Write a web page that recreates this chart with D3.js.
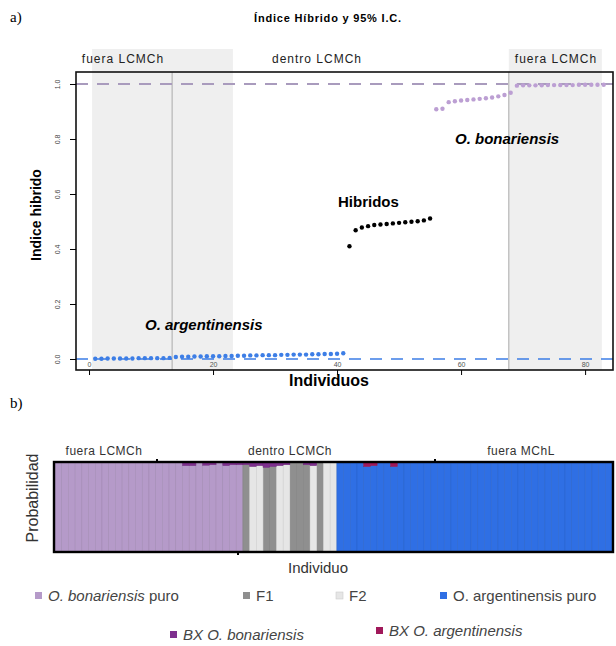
<!DOCTYPE html>
<html>
<head>
<meta charset="utf-8">
<script src="https://cdn.jsdelivr.net/npm/d3@7"></script>
<style>
body { margin: 0; background: #fff; }
text { font-family: "Liberation Sans", Arial, sans-serif; }
</style>
</head>
<body>
<svg id="chart" width="616" height="646"></svg>
<script>
// ---- panel a: hybrid index per individual (in plot order) ----
var indexArg = [0.001, 0.001, 0.002, 0.002, 0.002, 0.002, 0.002, 0.003, 0.003, 0.003,
                0.003, 0.003, 0.004, 0.007, 0.008, 0.008, 0.009, 0.009, 0.010, 0.010,
                0.010, 0.011, 0.011, 0.012, 0.012, 0.013, 0.013, 0.014, 0.014, 0.014,
                0.015, 0.015, 0.016, 0.016, 0.016, 0.017, 0.017, 0.018, 0.018, 0.019, 0.021];
var indexHyb = [0.410, 0.468, 0.478, 0.483, 0.487, 0.489, 0.491, 0.493, 0.495, 0.497,
                0.499, 0.501, 0.504, 0.511];
var indexBon = [0.908, 0.910, 0.934, 0.937, 0.940, 0.942, 0.944, 0.946, 0.948, 0.951,
                0.955, 0.960, 0.968, 0.994, 0.995, 0.995, 0.995, 0.995, 0.996, 0.996,
                0.996, 0.996, 0.996, 0.997, 0.997, 0.997, 0.997, 0.997];
var xTicks = [0, 20, 40, 60, 80];
var yTicks = [0, 0.2, 0.4, 0.6, 0.8, 1.0];
var shadeZones = [[0.5, 23.2], [67.7, 82.7]];
var zoneLines = [13.4, 67.7];

// ---- panel b: STRUCTURE assignment per individual (bar order) ----
var structClass = ["B","B","B","B","B","B","B","B","B","B","B","B","B","B",
                   "B","B","B","B","B","B","B","B","B","B","B","B","B","B",
                   "F1","F2","F2","F1","F1","F2","F2","F1","F1","F1","F2","F1","F2","F2",
                   "A","A","A","A","A","A","A","A","A","A","A","A","A","A",
                   "A","A","A","A","A","A","A","A","A","A","A","A","A","A",
                   "A","A","A","A","A","A","A","A","A","A","A","A","A"];
// [individual, probability] for backcross components
var bxBonTips = [[20, 0.03], [21, 0.03], [23, 0.025], [24, 0.02], [26, 0.03], [27, 0.02],
                 [28, 0.02], [29, 0.02], [30, 0.04], [31, 0.03], [32, 0.05], [33, 0.04],
                 [34, 0.03], [35, 0.02], [38, 0.02], [39, 0.03]];
var bxArgTips = [[47, 0.04], [48, 0.03], [51, 0.04]];
var classKeys = ["B", "F1", "F2", "A", "BXB", "BXA"];

var colors = {B: "#b59ac9", F1: "#8f8f8f", F2: "#e6e6e6", A: "#2f6fe4", BXB: "#7e2f8e", BXA: "#a0185a"};

var svg = d3.select("#chart");

// ================= panel a =================
var x = d3.scaleLinear().domain([-2.1, 84.5]).range([76, 613]);
var y = d3.scaleLinear().domain([-0.04, 1.0436]).range([370, 72]);

svg.append("text").attr("x", 10).attr("y", 22)
    .style("font-family", "Liberation Serif, serif").style("font-size", "15px").text("a)");

svg.append("text").attr("x", 328).attr("y", 22).attr("text-anchor", "middle")
    .style("font-size", "11px").style("font-weight", "bold").style("letter-spacing", "0.8px")
    .text("Índice Híbrido y 95% I.C.");

// shaded zones
svg.selectAll(".zone").data(shadeZones).enter().append("rect")
    .attr("class", "zone")
    .attr("x", function(d) { return x(d[0]); })
    .attr("width", function(d) { return x(d[1]) - x(d[0]); })
    .attr("y", 49).attr("height", 370 - 49)
    .attr("fill", "#efefef");

svg.selectAll(".zline").data(zoneLines).enter().append("line")
    .attr("x1", function(d) { return x(d); }).attr("x2", function(d) { return x(d); })
    .attr("y1", 72).attr("y2", 370)
    .attr("stroke", "#aaa").attr("stroke-width", 1);

// zone labels
[["fuera LCMCh", 123], ["dentro LCMCh", 317], ["fuera LCMCh", 556]].forEach(function(l) {
    svg.append("text").attr("x", l[1]).attr("y", 63).attr("text-anchor", "middle")
        .style("font-size", "12px").style("fill", "#222").style("letter-spacing", "1px")
        .text(l[0]);
});

// reference dashed lines
svg.append("line").attr("x1", 76).attr("x2", 613).attr("y1", y(1)).attr("y2", y(1))
    .attr("stroke", "#a99bbd").attr("stroke-width", 1.8).attr("stroke-dasharray", "12,9");
svg.append("line").attr("x1", 76).attr("x2", 613).attr("y1", y(0)).attr("y2", y(0))
    .attr("stroke", "#3d7ee6").attr("stroke-width", 1.5).attr("stroke-dasharray", "12,9");

// points
function addPoints(vals, offset, color) {
    svg.append("g").selectAll("circle").data(vals).enter().append("circle")
        .attr("cx", function(d, i) { return x(offset + i + 1); })
        .attr("cy", function(d) { return y(d); })
        .attr("r", 2.2)
        .attr("fill", color);
}
addPoints(indexArg, 0, "#3d7ee6");
addPoints(indexHyb, indexArg.length, "#000");
addPoints(indexBon, indexArg.length + indexHyb.length, "#bc9fd3");

// box
svg.append("rect").attr("x", 76).attr("y", 72).attr("width", 537).attr("height", 298)
    .attr("fill", "none").attr("stroke", "#111").attr("stroke-width", 1.6);

// axes
var yAxis = svg.append("g").attr("transform", "translate(76,0)")
    .call(d3.axisLeft(y).tickValues(yTicks).tickSize(6).tickFormat(d3.format(".1f")));
yAxis.select(".domain").remove();
yAxis.selectAll("text")
    .attr("transform", "rotate(-90)")
    .attr("x", 0).attr("y", -16).attr("dy", 0)
    .attr("text-anchor", "middle")
    .style("font-size", "7px").style("fill", "#444");

var xAxis = svg.append("g").attr("transform", "translate(0,370)")
    .call(d3.axisBottom(x).tickValues(xTicks).tickSize(5));
xAxis.select(".domain").remove();
xAxis.selectAll("text").attr("y", -3).attr("dy", 0)
    .style("font-size", "7px").style("fill", "#555");

svg.append("text").attr("transform", "translate(41,215) rotate(-90)")
    .attr("text-anchor", "middle")
    .style("font-size", "14px").style("font-weight", "bold").text("Indice hibrido");
svg.append("text").attr("x", 329).attr("y", 386).attr("text-anchor", "middle")
    .style("font-size", "16px").style("font-weight", "bold").text("Individuos");

// in-plot labels
svg.append("text").attr("x", 455).attr("y", 144)
    .style("font-size", "15px").style("font-weight", "bold").style("font-style", "italic")
    .text("O. bonariensis");
svg.append("text").attr("x", 338).attr("y", 207)
    .style("font-size", "15px").style("font-weight", "bold").text("Hibridos");
svg.append("text").attr("x", 145).attr("y", 330)
    .style("font-size", "15px").style("font-weight", "bold").style("font-style", "italic")
    .text("O. argentinensis");

// ================= panel b =================
svg.append("text").attr("x", 10).attr("y", 408)
    .style("font-family", "Liberation Serif, serif").style("font-size", "15px").text("b)");

var rows = structClass.map(function(c, i) {
    var r = {id: i + 1, B: 0, F1: 0, F2: 0, A: 0, BXB: 0, BXA: 0};
    bxBonTips.forEach(function(t) { if (t[0] === i + 1) r.BXB = t[1]; });
    bxArgTips.forEach(function(t) { if (t[0] === i + 1) r.BXA = t[1]; });
    r[c] = 1 - r.BXB - r.BXA;
    return r;
});

var xb = d3.scaleBand().domain(rows.map(function(d) { return d.id; })).range([55, 612]).padding(0);
var yb = d3.scaleLinear().domain([0, 1]).range([551, 463]);

var series = d3.stack().keys(classKeys)(rows);
svg.append("g").selectAll("g").data(series).enter().append("g")
    .attr("fill", function(s) { return colors[s.key]; })
    .attr("stroke", function(s) { return d3.color(colors[s.key]).darker(0.35); })
    .attr("stroke-width", 0.5)
    .selectAll("rect").data(function(s) { return s; }).enter().append("rect")
    .attr("x", function(d) { return xb(d.data.id); })
    .attr("width", xb.bandwidth())
    .attr("y", function(d) { return yb(d[1]); })
    .attr("height", function(d) { return yb(d[0]) - yb(d[1]); });

svg.append("rect").attr("x", 54).attr("y", 462).attr("width", 559).attr("height", 90)
    .attr("fill", "none").attr("stroke", "#000").attr("stroke-width", 2.4);

// small stray tick marks on the frame
[[157, 459, 462], [435, 459, 462], [238, 552, 555]].forEach(function(m) {
    svg.append("line").attr("x1", m[0]).attr("x2", m[0]).attr("y1", m[1]).attr("y2", m[2])
        .attr("stroke", "#000").attr("stroke-width", 2);
});

[["fuera LCMCh", 104], ["dentro LCMCh", 290], ["fuera MChL", 521]].forEach(function(l) {
    svg.append("text").attr("x", l[1]).attr("y", 455).attr("text-anchor", "middle")
        .style("font-size", "12px").style("fill", "#333").style("letter-spacing", "0.5px")
        .text(l[0]);
});

svg.append("text").attr("transform", "translate(38,498) rotate(-90)")
    .attr("text-anchor", "middle").style("font-size", "16px").style("fill", "#333")
    .text("Probabilidad");
svg.append("text").attr("x", 318).attr("y", 573).attr("text-anchor", "middle")
    .style("font-size", "15px").style("fill", "#333").text("Individuo");

// legend
var legendItems = [
    {key: "B", parts: [["O. bonariensis", true], [" puro", false]]},
    {key: "F1", parts: [["F1", false]]},
    {key: "F2", parts: [["F2", false]]},
    {key: "A", parts: [["O. argentinensis puro", false]]},
    {key: "BXB", parts: [["BX O. bonariensis", true]]},
    {key: "BXA", parts: [["BX O. argentinensis", true]]}
];
var legendPos = [[35, 601], [243, 601], [336, 601], [440, 601], [170, 640], [376, 636]];

legendItems.forEach(function(item, i) {
    var p = legendPos[i];
    var g = svg.append("g").attr("transform", "translate(" + p[0] + "," + p[1] + ")");
    g.append("rect").attr("x", 0).attr("y", -9).attr("width", 7).attr("height", 7)
        .attr("fill", colors[item.key])
        .attr("stroke", item.key === "F2" ? "#ccc" : "none").attr("stroke-width", 0.6);
    var t = g.append("text").attr("x", 13).attr("y", 0)
        .style("font-size", "15px").style("fill", "#444");
    item.parts.forEach(function(pt) {
        t.append("tspan").style("font-style", pt[1] ? "italic" : "normal").text(pt[0]);
    });
});
</script>
</body>
</html>
